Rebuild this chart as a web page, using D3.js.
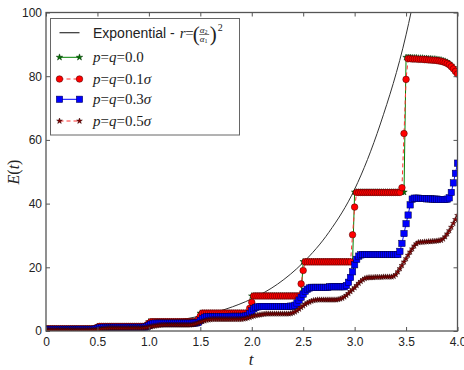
<!DOCTYPE html>
<html>
<head>
<meta charset="utf-8">
<script src="https://cdn.jsdelivr.net/npm/d3@7"></script>
<style>
  body { margin: 0; background: #fff; }
  svg { display: block; }
  .axis text { font-family: "Liberation Sans", Arial, sans-serif; font-size: 12px; fill: #222; }
  .axis line { stroke: #555; }
  .math { font-family: "Liberation Serif", "Times New Roman", serif; fill: #222; }
</style>
</head>
<body>
<script>

// sample times of the simulation, one every 0.02 from 0 to 4
var tSamples = d3.range(201).map(function(i) { return i / 50; });

var xTicks = [0, 0.5, 1, 1.5, 2, 2.5, 3, 3.5, 4];
var xTickLabels = ["0", "0.5", "1.0", "1.5", "2.0", "2.5", "3.0", "3.5", "4.0"];
var yTicks = [0, 20, 40, 60, 80, 100];

// exponential reference curve
var expT = [0, 0.25, 0.5, 0.75, 1.0, 1.25, 1.5, 1.75, 2.0, 2.25, 2.5, 2.75, 3.0, 3.25, 3.5, 3.6];
var expE = [0.5, 0.73, 1.06, 1.54, 2.24, 3.26, 4.7, 6.9, 10.1, 14.7, 21.5, 31.0, 44.5, 65.0, 93.0, 108.0];

// one row per half unit of t (25 samples), plus the value at t = 4
var pq00 = [
  0.7,0.7,0.7,0.7,0.7, 0.7,0.7,0.7,0.7,0.7, 0.7,0.7,0.7,0.7,0.7, 0.7,0.7,0.7,0.7,0.7, 0.7,0.7,0.7,0.7,0.7,
  1.45,1.45,1.45,1.45,1.45, 1.45,1.45,1.45,1.45,1.45, 1.45,1.45,1.45,1.45,1.45, 1.45,1.45,1.45,1.45,1.45, 1.45,1.45,1.45,1.45,1.45,
  2.9,2.9,2.9,2.9,2.9, 2.9,2.9,2.9,2.9,2.9, 2.9,2.9,2.9,2.9,2.9, 2.9,2.9,2.9,2.9,2.9, 2.9,2.9,2.9,2.9,2.9,
  5.6,5.6,5.6,5.6,5.6, 5.6,5.6,5.6,5.6,5.6, 5.6,5.6,5.6,5.6,5.6, 5.6,5.6,5.6,5.6,5.6, 5.6,5.6,5.6,5.6,5.6,
  11.0,11.0,11.0,11.0,11.0, 11.0,11.0,11.0,11.0,11.0, 11.0,11.0,11.0,11.0,11.0, 11.0,11.0,11.0,11.0,11.0, 11.0,11.0,11.0,11.0,11.0,
  21.8,21.8,21.8,21.8,21.8, 21.8,21.8,21.8,21.8,21.8, 21.8,21.8,21.8,21.8,21.8, 21.8,21.8,21.8,21.8,21.8, 21.8,21.8,21.8,21.8,21.8,
  43.6,43.6,43.6,43.6,43.6, 43.6,43.6,43.6,43.6,43.6, 43.6,43.6,43.6,43.6,43.6, 43.6,43.6,43.6,43.6,43.6, 43.6,43.6,43.6,43.6,43.6,
  85.9,85.9,85.9,85.8,85.8, 85.8,85.7,85.7,85.7,85.6, 85.6,85.5,85.5,85.4,85.4, 85.3,85.2,85.1,84.9,84.7, 84.4,84.0,83.4,82.7,81.9,
  81.1
];

var pq01 = [
  0.7,0.7,0.7,0.7,0.7, 0.7,0.7,0.7,0.7,0.7, 0.7,0.7,0.7,0.7,0.7, 0.7,0.7,0.7,0.7,0.7, 0.7,0.7,0.7,0.7,0.9,
  1.2,1.45,1.45,1.45,1.45, 1.45,1.45,1.45,1.45,1.45, 1.45,1.45,1.45,1.45,1.45, 1.45,1.45,1.45,1.45,1.45, 1.45,1.45,1.45,1.45,1.9,
  2.4,2.9,2.9,2.9,2.9, 2.9,2.9,2.9,2.9,2.9, 2.9,2.9,2.9,2.9,2.9, 2.9,2.9,2.9,2.9,2.9, 2.9,2.9,2.9,2.9,3.7,
  4.7,5.6,5.6,5.6,5.6, 5.6,5.6,5.6,5.6,5.6, 5.6,5.6,5.6,5.6,5.6, 5.6,5.6,5.6,5.6,5.6, 5.6,5.6,5.6,5.6,7.1,
  9.0,11.0,11.0,11.0,11.0, 11.0,11.0,11.0,11.0,11.0, 11.0,11.0,11.0,11.0,11.0, 11.0,11.0,11.0,11.0,11.0, 11.0,11.0,11.0,11.0,14.8,
  19.0,21.7,21.7,21.7,21.7, 21.7,21.7,21.7,21.7,21.7, 21.7,21.7,21.7,21.7,21.7, 21.7,21.7,21.7,21.7,21.7, 21.7,21.7,21.7,21.7,30.2,
  38.9,43.5,43.5,43.5,43.5, 43.5,43.5,43.5,43.5,43.5, 43.5,43.5,43.5,43.5,43.5, 43.5,43.5,43.5,43.5,43.5, 43.5,43.5,43.5,45.0,62.0,
  79.0,85.5,85.5,85.4,85.4, 85.4,85.3,85.3,85.3,85.2, 85.2,85.1,85.1,85.0,85.0, 84.9,84.8,84.7,84.5,84.3, 84.0,83.6,83.0,82.3,81.5,
  80.7
];

var pq03 = [
  0.5,0.5,0.5,0.5,0.5, 0.5,0.5,0.5,0.5,0.5, 0.5,0.5,0.5,0.5,0.5, 0.5,0.5,0.5,0.5,0.5, 0.5,0.5,0.5,0.5,0.6,
  0.8,1.0,1.1,1.15,1.15, 1.15,1.15,1.15,1.15,1.15, 1.15,1.15,1.15,1.15,1.15, 1.15,1.15,1.15,1.15,1.15, 1.15,1.15,1.15,1.2,1.3,
  1.7,2.1,2.35,2.45,2.45, 2.45,2.45,2.45,2.45,2.45, 2.45,2.45,2.45,2.45,2.45, 2.45,2.45,2.45,2.45,2.45, 2.45,2.45,2.5,2.55,2.7,
  3.3,3.9,4.3,4.5,4.5, 4.5,4.5,4.5,4.55,4.55, 4.55,4.55,4.55,4.55,4.55, 4.6,4.6,4.6,4.6,4.6, 4.6,4.6,4.7,4.9,5.5,
  6.3,7.0,7.4,7.6,7.7, 7.7,7.7,7.7,7.7,7.7, 7.7,7.7,7.7,7.7,7.7, 7.7,7.7,7.7,7.7,7.8, 7.8,8.1,8.8,9.7,10.6,
  11.6,12.5,13.1,13.5,13.7, 13.7,13.7,13.7,13.7,13.7, 13.7,13.7,13.7,13.9,13.9, 13.9,13.9,13.9,13.9,13.9, 13.9,14.3,15.3,16.8,18.6,
  20.8,22.5,23.5,23.9,24.0, 24.0,24.0,24.0,24.0,24.0, 24.0,24.0,24.0,24.0,24.0, 24.0,24.0,24.0,24.0,24.0, 24.0,24.0,25.0,27.5,30.6,
  33.7,36.4,39.6,41.4,41.7, 41.7,41.7,41.6,41.6,41.6, 41.5,41.5,41.5,41.4,41.4, 41.4,41.3,41.3,41.3,41.3, 41.4,41.8,43.5,46.5,49.5,
  52.7
];

var pq05 = [
  0.3,0.3,0.3,0.3,0.3, 0.3,0.3,0.3,0.3,0.3, 0.3,0.3,0.3,0.3,0.3, 0.3,0.3,0.3,0.3,0.3, 0.3,0.3,0.3,0.35,0.4,
  0.45,0.55,0.65,0.75,0.8, 0.85,0.9,0.9,0.9,0.9, 0.9,0.9,0.9,0.9,0.9, 0.9,0.9,0.9,0.9,0.9, 0.9,0.9,0.95,1.0,1.1,
  1.2,1.35,1.5,1.6,1.7, 1.8,1.85,1.9,1.9,1.9, 1.9,1.9,1.9,1.9,1.9, 1.9,1.9,1.9,1.9,1.9, 1.9,2.0,2.1,2.3,2.5,
  2.75,3.0,3.2,3.4,3.5, 3.6,3.7,3.7,3.7,3.7, 3.7,3.7,3.7,3.7,3.7, 3.7,3.7,3.7,3.7,3.7, 3.7,3.8,3.9,4.1,4.3,
  4.5,4.7,4.9,5.0,5.1, 5.2,5.3,5.4,5.4,5.4, 5.4,5.4,5.4,5.4,5.4, 5.4,5.4,5.4,5.4,5.5, 5.7,6.0,6.4,6.9,7.4,
  7.9,8.4,8.8,9.1,9.4, 9.6,9.7,9.8,9.8,9.8, 9.8,9.8,9.8,9.8,9.8, 9.8,9.8,9.9,10.1,10.3, 10.7,11.2,11.8,12.4,13.0,
  13.6,14.3,15.0,15.6,16.1, 16.5,16.7,16.8,16.8,16.8, 16.9,16.9,16.9,16.9,17.0, 17.0,17.0,17.0,17.0,17.2, 17.7,18.6,19.6,20.6,21.7,
  22.7,23.8,24.8,25.8,26.7, 27.4,27.8,27.9,27.9,28.0, 28.0,28.1,28.1,28.2,28.2, 28.3,28.4,28.5,28.9,29.6, 30.5,31.5,32.6,33.8,35.0,
  36.3
];

var width = 464,
    height = 370;

var x = d3.scaleLinear().domain([0, 4]).range([46, 457.5]);
var y = d3.scaleLinear().domain([0, 100]).range([331, 12.5]);

var svg = d3.select("body").append("svg")
    .attr("width", width)
    .attr("height", height);

var defs = svg.append("defs");

defs.append("clipPath")
    .attr("id", "plot-clip")
  .append("rect")
    .attr("x", x(0))
    .attr("y", y(100))
    .attr("width", x(4) - x(0))
    .attr("height", y(0) - y(100));

// the source picture is a soft, resampled raster
defs.append("filter")
    .attr("id", "soft")
  .append("feGaussianBlur")
    .attr("stdDeviation", 0.35);

var series = [
  { name: "0.0", values: pq00, line: "#008000", dash: null, marker: "star", size: 13, fill: "#007000", edge: "#003000" },
  { name: "0.1", values: pq01, line: "#ff3030", dash: "4,3", marker: "circle", size: 3.3, fill: "#ff0000", edge: "#400000" },
  { name: "0.3", values: pq03, line: "#0000ff", dash: null, marker: "square", size: 6.4, fill: "#0000ff", edge: "#000040" },
  { name: "0.5", values: pq05, line: "#ff3030", dash: "4,3", marker: "star", size: 10, fill: "#8b0000", edge: "#300000" }
];

function addMarker(sel, kind, s) {
  if (kind === "circle") {
    sel.append("circle").attr("r", s.size);
  } else if (kind === "square") {
    sel.append("rect")
        .attr("x", -s.size / 2).attr("y", -s.size / 2)
        .attr("width", s.size).attr("height", s.size);
  } else {
    sel.append("path").attr("d", d3.symbol().type(d3.symbolStar).size(s.size));
  }
  sel.attr("fill", s.fill)
     .attr("stroke", s.edge)
     .attr("stroke-width", 0.5);
}

var plot = svg.append("g")
    .attr("clip-path", "url(#plot-clip)")
  .append("g")
    .attr("filter", "url(#soft)");

// exponential curve
var expPoints = expT.map(function(t, i) { return [t, expE[i]]; });
plot.append("path")
    .datum(expPoints)
    .attr("fill", "none")
    .attr("stroke", "#333")
    .attr("stroke-width", 1)
    .attr("d", d3.line()
        .curve(d3.curveMonotoneX)
        .x(function(d) { return x(d[0]); })
        .y(function(d) { return y(d[1]); }));

var line = d3.line()
    .x(function(d) { return x(d[0]); })
    .y(function(d) { return y(d[1]); });

series.forEach(function(s) {
  var pts = tSamples.map(function(t, i) { return [t, s.values[i]]; });
  var g = plot.append("g");
  g.append("path")
      .datum(pts)
      .attr("fill", "none")
      .attr("stroke", s.line)
      .attr("stroke-width", 1)
      .attr("stroke-dasharray", s.dash)
      .attr("d", line);
  g.selectAll("g.mk")
      .data(pts)
    .enter().append("g")
      .attr("class", "mk")
      .attr("transform", function(d) { return "translate(" + x(d[0]) + "," + y(d[1]) + ")"; })
      .each(function() { addMarker(d3.select(this), s.marker, s); });
});

// axes, ticks pointing inward on all four sides
svg.append("g")
    .attr("class", "axis")
    .attr("transform", "translate(0," + y(0) + ")")
    .call(d3.axisBottom(x).tickValues(xTicks).tickSizeInner(-4).tickSizeOuter(0).tickPadding(6)
        .tickFormat(function(d, i) { return xTickLabels[i]; }));

svg.append("g")
    .attr("class", "axis")
    .attr("transform", "translate(0," + y(100) + ")")
    .call(d3.axisTop(x).tickValues(xTicks).tickSizeInner(-4).tickSizeOuter(0).tickFormat(""));

svg.append("g")
    .attr("class", "axis")
    .attr("transform", "translate(" + x(0) + ",0)")
    .call(d3.axisLeft(y).tickValues(yTicks).tickSizeInner(-4).tickSizeOuter(0).tickPadding(4));

svg.append("g")
    .attr("class", "axis")
    .attr("transform", "translate(" + x(4) + ",0)")
    .call(d3.axisRight(y).tickValues(yTicks).tickSizeInner(-4).tickSizeOuter(0).tickFormat(""));

svg.selectAll(".axis .domain").remove();

svg.append("rect")
    .attr("x", x(0))
    .attr("y", y(100))
    .attr("width", x(4) - x(0))
    .attr("height", y(0) - y(100))
    .attr("fill", "none")
    .attr("stroke", "#555")
    .attr("stroke-width", 1.3);

// axis titles
svg.append("text")
    .attr("class", "math")
    .attr("x", 251)
    .attr("y", 365)
    .attr("text-anchor", "middle")
    .attr("font-size", 17)
    .attr("font-style", "italic")
    .text("t");

svg.append("text")
    .attr("class", "math")
    .attr("transform", "translate(18.5,172) rotate(-90)")
    .attr("text-anchor", "middle")
    .attr("font-size", 16)
    .html('<tspan font-style="italic">E</tspan>(<tspan font-style="italic">t</tspan>)');

// legend
var legend = svg.append("g");

legend.append("rect")
    .attr("x", 50.5)
    .attr("y", 18.5)
    .attr("width", 189)
    .attr("height", 116.5)
    .attr("fill", "#fff")
    .attr("stroke", "#666")
    .attr("stroke-width", 1);

var rowY = [32.7, 57.3, 79, 99.3, 121];

legend.append("line")
    .attr("x1", 59.5).attr("x2", 79.5)
    .attr("y1", rowY[0]).attr("y2", rowY[0])
    .attr("stroke", "#333")
    .attr("stroke-width", 1.2);

var expLabel = legend.append("text")
    .attr("x", 93)
    .attr("y", rowY[0] + 5)
    .attr("font-family", '"Liberation Sans", Arial, sans-serif')
    .attr("font-size", 14)
    .attr("fill", "#222")
    .text("Exponential -");

var mx = 93 + expLabel.node().getComputedTextLength() + 5;
var math = legend.append("g").attr("class", "math");

math.append("text").attr("x", mx).attr("y", rowY[0] + 5).attr("font-size", 15)
    .attr("font-style", "italic").text("r");
math.append("text").attr("x", mx + 5.5).attr("y", rowY[0] + 5).attr("font-size", 15).text("=");
math.append("text").attr("x", mx + 13).attr("y", rowY[0] + 8.3).attr("font-size", 21).text("(");
math.append("text").attr("x", mx + 20).attr("y", rowY[0]).attr("font-size", 9)
    .html('<tspan font-style="italic">α</tspan><tspan font-size="6" dy="1.5">2</tspan>');
math.append("line")
    .attr("x1", mx + 19.5).attr("x2", mx + 29.5)
    .attr("y1", rowY[0] + 1.8).attr("y2", rowY[0] + 1.8)
    .attr("stroke", "#222").attr("stroke-width", 0.6);
math.append("text").attr("x", mx + 20).attr("y", rowY[0] + 9).attr("font-size", 9)
    .html('<tspan font-style="italic">α</tspan><tspan font-size="6" dy="1.5">1</tspan>');
math.append("text").attr("x", mx + 30).attr("y", rowY[0] + 8.3).attr("font-size", 21).text(")");
math.append("text").attr("x", mx + 38).attr("y", rowY[0] - 2).attr("font-size", 10).text("2");

series.forEach(function(s, i) {
  var yy = rowY[i + 1];
  var g = legend.append("g");
  g.append("line")
      .attr("x1", 59.5).attr("x2", 79.5)
      .attr("y1", yy).attr("y2", yy)
      .attr("stroke", s.line)
      .attr("stroke-width", 1)
      .attr("stroke-dasharray", s.dash);
  [59.5, 79.5].forEach(function(px) {
    addMarker(g.append("g").attr("transform", "translate(" + px + "," + yy + ")"), s.marker, s);
  });
  var label = s.name === "0.0" ? "0.0" : s.name + '<tspan font-style="italic">σ</tspan>';
  g.append("text")
      .attr("class", "math")
      .attr("x", 93)
      .attr("y", yy + 4.5)
      .attr("font-size", 15)
      .html('<tspan font-style="italic">p</tspan>=<tspan font-style="italic">q</tspan>=' + label);
});

</script>
</body>
</html>
